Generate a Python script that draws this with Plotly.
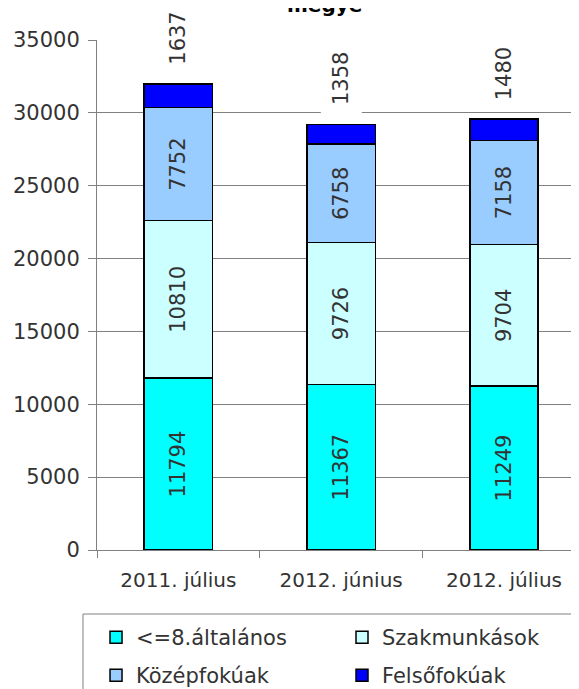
import plotly.graph_objects as go

categories = ["2011. július", "2012. június", "2012. július"]
series_names = ["<=8.általános", "Szakmunkások", "Középfokúak", "Felsőfokúak"]
altalanos = [11794, 11367, 11249]
szakmunkasok = [10810, 9726, 9704]
kozepfokuak = [7752, 6758, 7158]
felsofokuak = [1637, 1358, 1480]
colors = ["#00FFFF", "#CCFFFF", "#99CCFF", "#0000FF"]
y_ticks = [0, 5000, 10000, 15000, 20000, 25000, 30000, 35000]
y_ticktext = [str(v) for v in y_ticks]

FONT = "DejaVu Sans"
TXT = "#333333"

fig = go.Figure()
all_series = [altalanos, szakmunkasok, kozepfokuak, felsofokuak]
legend_ids = ["legend", "legend2", "legend3", "legend4"]
for i, (name, vals) in enumerate(zip(series_names, all_series)):
    show_text = i < 3
    fig.add_trace(go.Bar(
        x=categories, y=vals, name=name, legend=legend_ids[i],
        marker=dict(color=colors[i], line=dict(color="black", width=1.5)),
        text=[str(v) for v in vals] if show_text else None,
        textposition="inside" if show_text else "none",
        insidetextanchor="middle",
        textangle=-90,
        constraintext="none",
        textfont=dict(family=FONT, size=21, color=TXT),
    ))

totals = [a + b + c + d for a, b, c, d in zip(*all_series)]
for cat, tot, v in zip(categories, totals, felsofokuak):
    fig.add_annotation(
        x=cat, y=tot, xref="x", yref="y", text=str(v), showarrow=False,
        textangle=-90, yanchor="bottom", xanchor="center", yshift=10,
        bgcolor="white", borderpad=8,
        font=dict(family=FONT, size=21, color=TXT),
    )

fig.add_annotation(
    x=0.465, y=1.041, xref="paper", yref="paper", text="<b>megye</b>",
    showarrow=False, yanchor="bottom", xanchor="center",
    font=dict(family=FONT, size=20, color="black"),
)

# legend frame
fig.add_shape(
    type="rect", xref="paper", yref="paper",
    x0=-0.0286, x1=0.9755, y0=-0.1255, y1=-0.31,
    line=dict(color="#808080", width=1), fillcolor="rgba(0,0,0,0)", layer="above",
)

legend_common = dict(
    orientation="h", xanchor="left", yanchor="top",
    bgcolor="rgba(0,0,0,0)", borderwidth=0,
    font=dict(family=FONT, size=21, color=TXT),
)
row1_y, row2_y = -0.1314, -0.2059
col1_x, col2_x = -0.002, 0.5

fig.update_layout(
    width=579, height=689,
    margin=dict(l=89, r=0, t=32, b=147, autoexpand=False),
    barmode="stack", bargap=0.58,
    plot_bgcolor="white", paper_bgcolor="white",
    font=dict(family=FONT, size=20, color=TXT),
    showlegend=True,
    legend=dict(x=col1_x, y=row1_y, **legend_common),
    legend2=dict(x=col2_x, y=row1_y, **legend_common),
    legend3=dict(x=col1_x, y=row2_y, **legend_common),
    legend4=dict(x=col2_x, y=row2_y, **legend_common),
    xaxis=dict(
        type="category", range=[-0.5, 2.51], tickson="boundaries",
        ticks="outside", ticklen=7, tickcolor="#808080",
        showline=True, linecolor="#808080", linewidth=1,
        showgrid=False, ticklabelstandoff=12,
        tickfont=dict(family=FONT, size=20, color=TXT),
    ),
    yaxis=dict(
        range=[0, 35000], tickvals=y_ticks, ticktext=y_ticktext,
        ticks="outside", ticklen=8, ticklabelstandoff=4,
        tickcolor="#808080", showline=True, linecolor="#808080", linewidth=1,
        showgrid=True, gridcolor="#808080", gridwidth=1, zeroline=False,
        tickfont=dict(family=FONT, size=21, color=TXT),
    ),
)

fig.write_html("out.html")
